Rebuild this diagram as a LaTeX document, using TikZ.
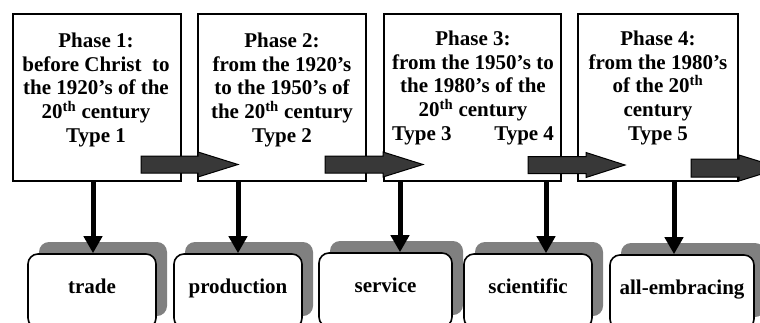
\documentclass[tikz,border=0pt]{standalone}
\usepackage{fontspec}
\setmainfont{Liberation Serif}[BoldFont={Liberation Serif Bold}]
\newfontfamily\tnrbold{Liberation Serif Bold}
\usetikzlibrary{arrows.meta,shadows}
\definecolor{arrfill}{HTML}{383838}
\definecolor{shadowgray}{HTML}{808080}
\begin{document}
\begin{tikzpicture}[x=1pt,y=-1pt,
  phasebox/.style={draw,line width=1.6pt,fill=white,inner sep=0pt},
  phasetext/.style={anchor=north,inner sep=0pt,align=center,
    font=\tnrbold\fontsize{21}{23.7}\selectfont},
  resbox/.style={draw,line width=1.6pt,fill=white,rounded corners=10pt,
    minimum height=74pt,text height=14pt,text depth=10pt,inner sep=0pt,
    font=\tnrbold\fontsize{21}{24}\selectfont,
    general shadow={fill=shadowgray,draw=none,shadow xshift=11pt,shadow yshift=12pt}},
  downarr/.style={line width=5pt,-{Triangle[width=18pt,length=17pt]}},
  bigarr/.style={draw=black,line width=1pt,fill=arrfill,line join=miter},
  pics/bigarrow/.style args={#1/#2/#3}{code={
    \draw[bigarr] (0,-#3) -- (#1,-#3) -- (#1,-#3-4) -- (#2,0) -- (#1,#3+4)
      -- (#1,#3) -- (0,#3) -- cycle;}}
]
\useasboundingbox (0,0) rectangle (760,322);
\clip (0,0) rectangle (760,322);

% phase boxes
\node[phasebox,minimum width=168pt,minimum height=167pt] (p1) at (97,97.5) {};
\node[phasebox,minimum width=168pt,minimum height=167pt] (p2) at (282,97.5) {};
\node[phasebox,minimum width=177pt,minimum height=167pt] (p3) at (472.5,97.5) {};
\node[phasebox,minimum width=160pt,minimum height=167pt] (p4) at (658,97.5) {};

\node[phasetext] (p1t) at (96,32.8) {Phase 1:\\before Christ\ \ to\\the 1920’s of the\\20\textsuperscript{th} century\\Type 1};
\node[phasetext] (p2t) at (282,32.8) {Phase 2:\\from the 1920’s\\to the 1950’s of\\the 20\textsuperscript{th} century\\Type 2};
\node[phasetext] (p3t) at (473,30.8) {Phase 3:\\from the 1950’s to\\the 1980’s of the\\20\textsuperscript{th} century\\\makebox[162pt]{Type 3\hfill Type 4}};
\node[phasetext] (p4t) at (658,30.8) {Phase 4:\\from the 1980’s\\of the 20\textsuperscript{th}\\century\\Type 5};

% result boxes
\node[resbox,minimum width=128pt] (b1) at (92,291) {trade};
\node[resbox,minimum width=128pt] (b2) at (238,291) {production};
\node[resbox,minimum width=133pt] (b3) at (385.5,290) {service};
\node[resbox,minimum width=128pt] (b4) at (528,291) {scientific};
\node[resbox,minimum width=144pt] (b5) at (682,292) {all-embracing};

% down arrows
\draw[downarr] (p1.south -| 93,0) -- (b1.north -| 93,0);
\draw[downarr] (p2.south -| 238,0) -- (b2.north -| 238,0);
\draw[downarr] (p3.south -| 400,0) -- (b3.north -| 400,0);
\draw[downarr] (p3.south -| 546,0) -- (b4.north -| 546,0);
\draw[downarr] (p4.south -| 674,0) -- (b5.north -| 674,0);

% big arrows between phases
\pic at (141,164.5) {bigarrow={57/97/8.5}};
\pic at (325,164.5) {bigarrow={58/98/8.5}};
\pic at (528,165) {bigarrow={58/97/8.5}};
\pic at (691,168) {bigarrow={48/90/9}};
\end{tikzpicture}
\end{document}
